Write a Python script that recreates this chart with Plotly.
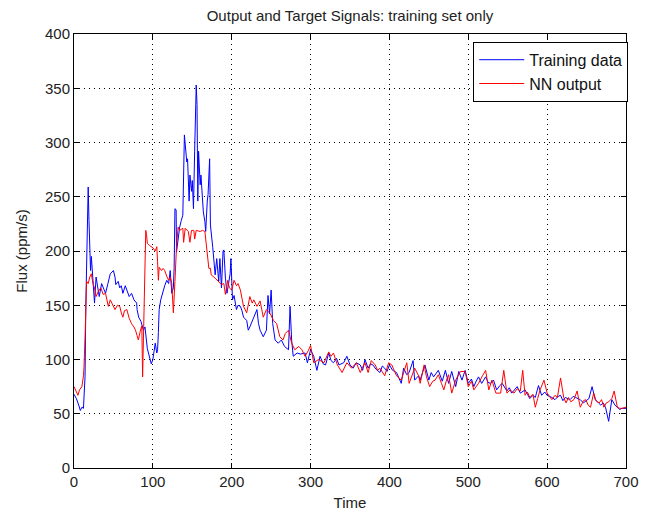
import plotly.graph_objects as go

# Training data (blue): time and flux values
t_train = [0, 3, 6, 8, 10, 12, 13, 14, 15, 16, 17, 18, 19, 20, 21, 22, 23, 24.5, 26, 28,
           30, 32, 35, 37, 40, 43, 46, 50, 52, 53, 56, 58, 60, 62, 65, 67, 70, 73, 76, 79.5,
           80, 82, 85, 88, 90, 93, 95.6, 98, 100, 102, 103, 105, 106, 107, 108, 110, 112, 115, 117.6, 120,
           122, 124, 126, 127, 128, 129.5, 130, 132, 134, 136, 138, 140, 141, 143, 144, 146, 147, 149, 150, 151.5,
           153, 155, 156, 157, 158, 160, 161, 163, 164, 166, 167, 169, 170, 172, 173, 176, 179, 181, 183.5, 185,
           187, 189, 190, 192, 194, 196, 198, 199, 201, 203, 206, 208, 211, 213, 215, 219, 221, 223, 226, 228,
           232, 234, 236, 240, 244, 246, 248, 250, 252, 255, 259, 263, 267, 272, 274, 276, 278, 283, 287, 293,
           296, 300, 304, 308, 312, 316, 319, 323, 326, 329, 333, 336, 342, 346, 350, 354, 358, 363, 366, 369,
           373, 376, 379, 383, 388, 391, 394, 397, 400, 404, 409, 415, 418, 422, 425, 430, 432, 437, 439, 445,
           450, 453, 456, 462, 467, 471, 475, 479, 484, 488, 492, 496, 500, 504, 507, 510, 513, 517, 522, 525,
           528, 532, 536, 540, 543, 549, 552, 555, 559, 562, 566, 572, 575, 578, 582, 585, 589, 593, 597, 600,
           606, 610, 614, 617, 620, 623, 629, 633, 636, 642, 646, 650, 653, 657, 661, 665, 668, 671, 674, 678,
           680, 682, 686, 689, 692, 695, 700]
v_train = [68, 64, 58, 53, 56, 55, 70, 84, 150, 198, 215, 259, 228, 195, 182, 195, 185, 173, 152, 176,
           165, 158, 170, 167, 161, 170, 179, 182, 176, 169, 172, 166, 168, 161, 168, 164, 158, 161, 155, 152,
           146, 139, 135, 127, 130, 110, 103, 96, 100, 108, 115, 106, 109, 125, 146, 155, 161, 168, 173, 170,
           182, 161, 166, 185, 239, 238, 199, 212, 222, 228, 233, 307, 296, 282, 285, 246, 270, 255, 265, 239,
           292, 353, 335, 246, 292, 261, 270, 246, 236, 227, 218, 246, 252, 285, 224, 203, 178, 193, 172, 193,
           166, 200, 201, 175, 161, 170, 179, 193, 155, 159, 146, 150, 149, 145, 139, 136, 127, 130, 136, 139,
           146, 133, 127, 121, 127, 159, 142, 164, 133, 118, 115, 118, 112, 109, 149, 118, 103, 106, 105, 106,
           97, 109, 103, 90, 103, 96, 95, 106, 99, 97, 101, 95, 97, 103, 95, 92, 97, 95, 90, 100,
           92, 96, 95, 91, 88, 94, 92, 89, 95, 90, 88, 78, 92, 86, 88, 99, 81, 85, 81, 95,
           81, 88, 84, 90, 80, 90, 78, 89, 75, 89, 81, 90, 78, 82, 75, 80, 84, 78, 84, 79,
           78, 81, 72, 76, 78, 71, 74, 69, 73, 75, 69, 72, 68, 64, 67, 65, 76, 67, 70, 67,
           65, 63, 66, 67, 62, 65, 63, 66, 65, 63, 60, 62, 64, 75, 63, 60, 58, 60, 56, 43,
           52, 63, 58, 56, 54, 55, 55]

# NN output (red)
t_nn = [0, 3, 5, 7, 10, 12, 12.7, 14, 15, 16, 18, 20, 22, 24, 26, 28, 31, 34, 37, 40,
        43.5, 46, 48, 50, 52, 55, 58, 60, 62, 64, 67, 70, 73, 76, 78, 80, 81.6, 84, 86, 87,
        88, 89, 90, 91, 92, 93, 96, 100, 103, 105, 106, 107, 108, 111, 113, 115, 118, 120, 122, 124,
        126, 127, 128, 130, 132, 134, 136, 138, 139, 141, 145, 147, 149, 152, 153, 155, 160, 163, 166, 167,
        169, 171, 173, 174, 179, 183, 187, 190, 192, 195, 197, 200, 203, 206, 208, 211, 215, 219, 223, 226,
        228, 232, 236, 240, 244, 249, 253, 257, 261, 265, 268, 272, 276, 280, 285, 289, 293, 297, 300, 304,
        310, 317, 320, 323, 326, 329, 334, 337, 340, 346, 349, 352, 358, 363, 366, 369, 373, 377, 382, 385,
        388, 394, 399, 403, 406, 409, 415, 419, 422, 425, 428, 432, 437, 439, 444, 447, 451, 455, 458, 462,
        466, 469, 472, 475, 479, 484, 490, 496, 500, 504, 507, 513, 518, 522, 526, 530, 535, 541, 545, 549,
        553, 558, 562, 566, 569, 572, 575, 578, 582, 585, 588, 591, 596, 600, 603, 606, 610, 613, 617, 621,
        624, 627, 630, 634, 638, 642, 646, 649, 652, 655, 659, 662, 666, 669, 672, 675, 678, 682, 685, 689,
        692, 695, 700]
v_nn = [75, 70, 67, 72, 75, 85, 93, 120, 166, 172, 170, 176, 179, 170, 166, 158, 163, 166, 160, 161,
        149, 155, 152, 148, 146, 150, 149, 143, 139, 145, 146, 138, 133, 130, 127, 122, 118, 126, 131, 84,
        120, 146, 180, 219, 215, 207, 205, 203, 200, 204, 190, 173, 185, 182, 184, 182, 176, 173, 176, 170,
        143, 155, 172, 204, 222, 219, 220, 221, 208, 221, 218, 208, 219, 219, 211, 219, 218, 219, 218, 211,
        203, 184, 184, 178, 175, 172, 169, 170, 160, 173, 166, 164, 173, 168, 170, 164, 149, 143, 158, 152,
        155, 149, 154, 139, 146, 142, 136, 133, 121, 118, 124, 127, 115, 109, 112, 109, 103, 108, 113, 97,
        100, 97, 103, 107, 103, 106, 95, 92, 88, 97, 94, 92, 97, 88, 93, 97, 88, 99, 95, 90,
        92, 85, 97, 95, 90, 85, 81, 90, 97, 78, 85, 92, 85, 78, 95, 84, 75, 80, 81, 86,
        78, 72, 80, 86, 69, 81, 89, 89, 75, 80, 72, 78, 85, 90, 72, 81, 69, 69, 90, 69,
        72, 69, 73, 71, 90, 67, 70, 65, 68, 56, 64, 72, 81, 69, 66, 63, 67, 65, 83, 65,
        60, 65, 61, 63, 71, 56, 62, 63, 58, 56, 69, 62, 60, 63, 56, 60, 61, 64, 71, 56,
        55, 55, 56]

x_ticks = [0, 100, 200, 300, 400, 500, 600, 700]
y_ticks = [0, 50, 100, 150, 200, 250, 300, 350, 400]

FONT = "Liberation Sans, Arial, Helvetica, sans-serif"
TXT = "#222222"

fig = go.Figure()
fig.add_trace(go.Scatter(x=t_train, y=v_train, mode="lines", name="Training data",
                         line=dict(color="#0000FF", width=1)))
fig.add_trace(go.Scatter(x=t_nn, y=v_nn, mode="lines", name="NN output",
                         line=dict(color="#FF0000", width=1)))

axis_common = dict(
    showline=True, linecolor="black", linewidth=1, mirror="ticks",
    ticks="inside", ticklen=5, tickcolor="black",
    showgrid=True, gridcolor="black", griddash="1px,4px", gridwidth=1,
    zeroline=False, automargin=False, tickfont=dict(family=FONT, size=15, color=TXT),
)

fig.update_layout(
    width=651, height=513, autosize=False,
    margin=dict(l=74, r=25, t=34, b=45),
    paper_bgcolor="white", plot_bgcolor="white",
    title=dict(text="Output and Target Signals: training set only",
               font=dict(family=FONT, size=15, color=TXT),
               x=0.5, xref="paper", xanchor="center", y=0.969, yanchor="middle"),
    xaxis=dict(range=[0, 700], tickvals=x_ticks, ticktext=[str(v) for v in x_ticks],
               title=dict(text="Time", font=dict(family=FONT, size=15, color=TXT), standoff=8),
               **axis_common),
    yaxis=dict(range=[0, 400], tickvals=y_ticks, ticktext=[str(v) for v in y_ticks],
               title=dict(text="Flux (ppm/s)", font=dict(family=FONT, size=15, color=TXT), standoff=13),
               **axis_common),
    legend=dict(x=1.004, xanchor="right", y=0.982, yanchor="top",
                bgcolor="white", bordercolor="black", borderwidth=1,
                font=dict(family=FONT, size=16, color="#111111"),
                tracegroupgap=0, itemwidth=45),
    showlegend=True,
)

fig.write_html("out.html", config={"displayModeBar": False},
               post_script="document.body.style.margin='0';")
